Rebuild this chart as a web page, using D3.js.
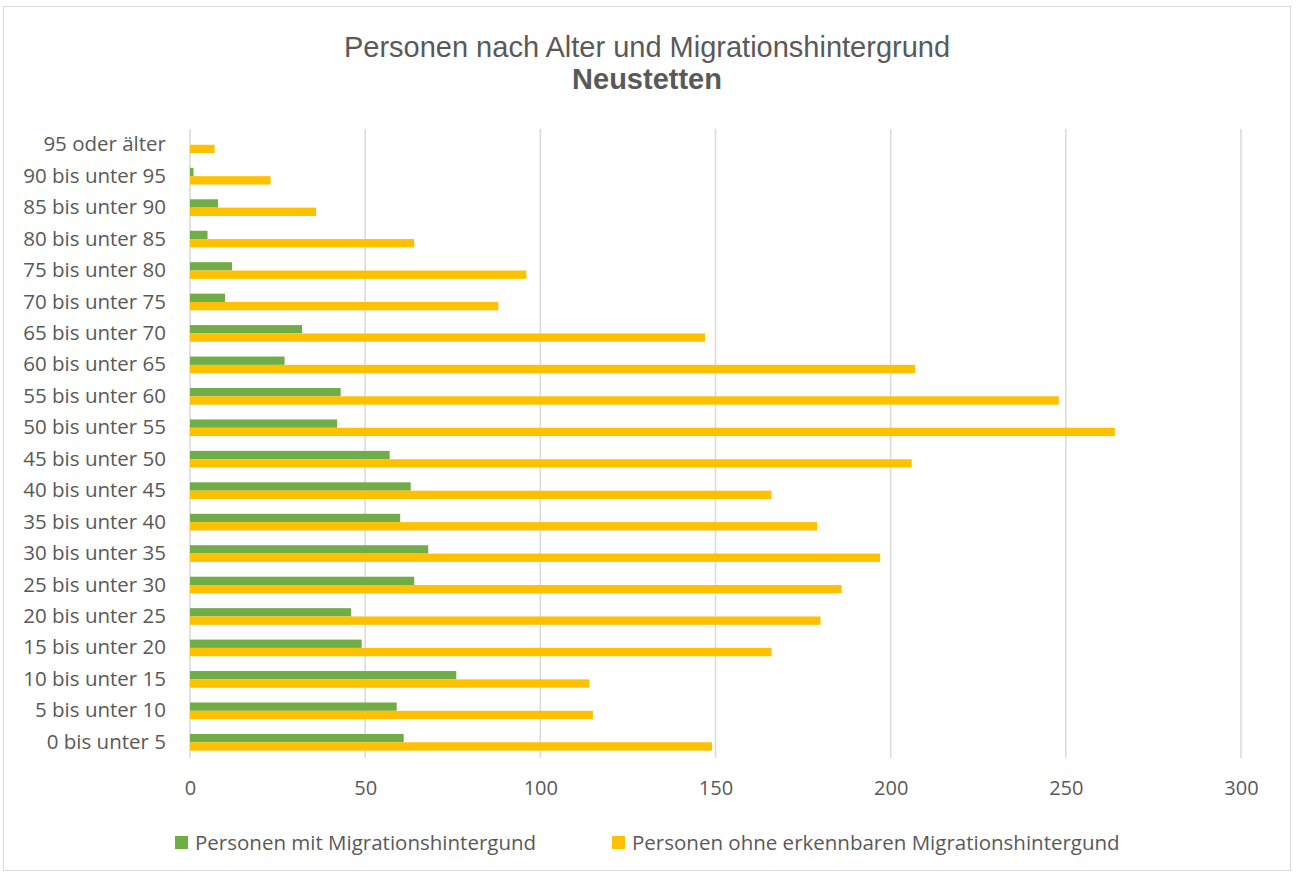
<!DOCTYPE html>
<html>
<head>
<meta charset="utf-8">
<script src="https://cdn.jsdelivr.net/npm/d3@7"></script>
<style>
  body { margin: 0; background: #fff; }
  text { font-family: "Open Sans", "Noto Sans", sans-serif; fill: #595959; }
</style>
</head>
<body>
<div class="chart"></div>
<script>
// age groups, top to bottom as drawn
var categories = ["95 oder älter", "90 bis unter 95", "85 bis unter 90", "80 bis unter 85",
    "75 bis unter 80", "70 bis unter 75", "65 bis unter 70", "60 bis unter 65",
    "55 bis unter 60", "50 bis unter 55", "45 bis unter 50", "40 bis unter 45",
    "35 bis unter 40", "30 bis unter 35", "25 bis unter 30", "20 bis unter 25",
    "15 bis unter 20", "10 bis unter 15", "5 bis unter 10", "0 bis unter 5"];

var mitMigration = [0, 1, 8, 5, 12, 10, 32, 27, 43, 42, 57, 63, 60, 68, 64, 46, 49, 76, 59, 61];
var ohneMigration = [7, 23, 36, 64, 96, 88, 147, 207, 248, 264, 206, 166, 179, 197, 186, 180, 166, 114, 115, 149];

var seriesNames = ["Personen mit Migrationshintergund", "Personen ohne erkennbaren Migrationshintergund"];
var seriesColors = ["#70AD47", "#FFC000"];
var xTicks = [0, 50, 100, 150, 200, 250, 300];

var svgWidth = 1297;
var svgHeight = 877;

var margin = {top: 129, right: 56, bottom: 119, left: 190};
var width = svgWidth - margin.left - margin.right;
var height = svgHeight - margin.top - margin.bottom;

var svg = d3.select(".chart")
    .append("svg")
    .attr("width", svgWidth)
    .attr("height", svgHeight);

// outer frame
svg.append("rect")
    .attr("x", 3.5).attr("y", 6.5)
    .attr("width", 1287).attr("height", 864)
    .attr("fill", "#fff")
    .attr("stroke", "#d9d9d9");

// title
svg.append("text")
    .attr("x", 647).attr("y", 57)
    .attr("text-anchor", "middle")
    .style("font-family", "'Liberation Sans', Arial, sans-serif")
    .style("font-size", "29px")
    .text("Personen nach Alter und Migrationshintergrund");

svg.append("text")
    .attr("x", 647).attr("y", 89)
    .attr("text-anchor", "middle")
    .style("font-family", "'Liberation Sans', Arial, sans-serif")
    .style("font-size", "29px")
    .style("font-weight", "bold")
    .text("Neustetten");

var chartGroup = svg.append("g")
    .attr("transform", `translate(${margin.left}, ${margin.top})`);

var xScale = d3.scaleLinear()
    .domain([0, 300])
    .range([0, width]);

var yScale = d3.scaleBand()
    .domain(categories)
    .range([0, height])
    .paddingInner(0.47)
    .paddingOuter(0.235);

var subScale = d3.scaleBand()
    .domain([0, 1])
    .range([0, yScale.bandwidth()]);

// grid lines
chartGroup.selectAll(".grid")
    .data(xTicks)
    .enter()
    .append("line")
    .attr("x1", d => xScale(d))
    .attr("x2", d => xScale(d))
    .attr("y1", 0)
    .attr("y2", height)
    .attr("stroke", "#d9d9d9")
    .attr("stroke-width", 1.5);

// x axis labels
var bottomAxis = d3.axisBottom(xScale)
    .tickValues(xTicks)
    .tickSize(0)
    .tickPadding(23);

var xAxis = chartGroup.append("g")
    .attr("transform", `translate(0, ${height})`)
    .call(bottomAxis);
xAxis.select(".domain").remove();
xAxis.selectAll("text").style("font-size", "20px").attr("fill", "#595959");

// y axis labels
var leftAxis = d3.axisLeft(yScale)
    .tickSize(0)
    .tickPadding(24);

var yAxis = chartGroup.append("g").call(leftAxis);
yAxis.select(".domain").remove();
yAxis.selectAll("text").style("font-size", "20.5px").attr("fill", "#595959");

// bars
var seriesData = [mitMigration, ohneMigration];
seriesData.forEach(function(values, s) {
    chartGroup.selectAll(".bar" + s)
        .data(values)
        .enter()
        .append("rect")
        .attr("x", 0)
        .attr("y", (d, i) => yScale(categories[i]) + subScale(s))
        .attr("width", d => xScale(d))
        .attr("height", subScale.bandwidth())
        .attr("fill", seriesColors[s]);
});

// legend
var legendX = [175, 612];
var legend = svg.selectAll(".legend")
    .data(seriesNames)
    .enter()
    .append("g")
    .attr("transform", (d, i) => `translate(${legendX[i]}, 843)`);

legend.append("rect")
    .attr("x", 0).attr("y", -7)
    .attr("width", 13).attr("height", 13)
    .attr("fill", (d, i) => seriesColors[i]);

legend.append("text")
    .attr("x", 20).attr("y", 0)
    .attr("dy", "0.35em")
    .style("font-size", "20.5px")
    .text(d => d);
</script>
</body>
</html>
